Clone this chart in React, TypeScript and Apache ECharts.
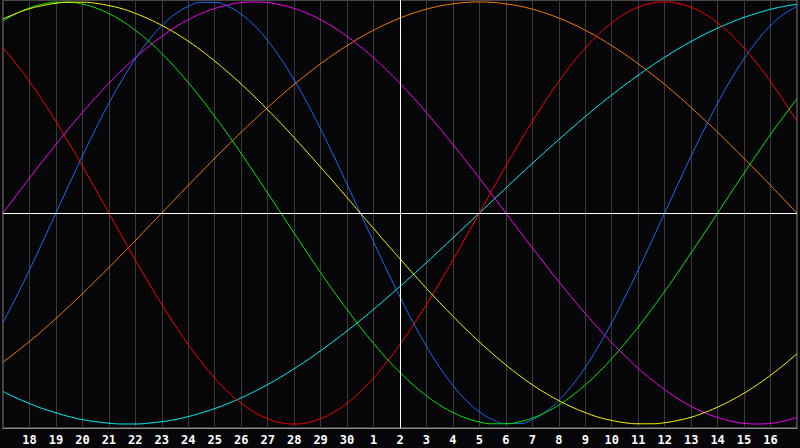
import React, { useEffect, useRef } from "react";
import * as echarts from "echarts";

// Day labels at each vertical grid line (one per day, Sep 17 .. Oct 17)
const dayLabels = [
  "17", "18", "19", "20", "21", "22", "23", "24", "25", "26", "27", "28", "29", "30",
  "1", "2", "3", "4", "5", "6", "7", "8", "9", "10", "11", "12", "13", "14", "15", "16", "17",
];
const todayIndex = 15;
// values read every half day (61 samples from the first to the last grid line)
const samplesPerDay = 2;

const physical = [
  -0.520, -0.398, -0.270, -0.136,
  0, 0.136, 0.270, 0.398, 0.520, 0.631, 0.731, 0.817, 0.888, 0.942, 0.979, 0.998, 0.998, 0.979, 0.942, 0.888, 0.817, 0.731, 0.631, 0.520, 0.398, 0.270, 0.136,
  0, -0.136, -0.270, -0.398, -0.520, -0.631, -0.731, -0.817, -0.888, -0.942, -0.979, -0.998, -0.998, -0.979, -0.942, -0.888, -0.817, -0.731, -0.631, -0.520, -0.398, -0.270, -0.136,
  0, 0.136, 0.270, 0.398, 0.520, 0.631, 0.731, 0.817, 0.888, 0.942, 0.979,
];
const emotional = [
  0.782, 0.707, 0.623, 0.532, 0.434, 0.330, 0.223, 0.112,
  0, -0.112, -0.223, -0.330, -0.434, -0.532, -0.623, -0.707, -0.782, -0.847, -0.901, -0.944, -0.975, -0.994, -1, -0.994, -0.975, -0.944, -0.901, -0.847, -0.782, -0.707, -0.623, -0.532, -0.434, -0.330, -0.223, -0.112,
  0, 0.112, 0.223, 0.330, 0.434, 0.532, 0.623, 0.707, 0.782, 0.847, 0.901, 0.944, 0.975, 0.994, 1, 0.994, 0.975, 0.944, 0.901, 0.847, 0.782, 0.707, 0.623, 0.532, 0.434,
];
const intellectual = [
  0.910, 0.945, 0.972, 0.990, 0.999, 0.999, 0.990, 0.972, 0.945, 0.910, 0.866, 0.815, 0.756, 0.690, 0.618, 0.541, 0.458, 0.372, 0.282, 0.189, 0.095,
  0, -0.095, -0.189, -0.282, -0.372, -0.458, -0.541, -0.618, -0.690, -0.756, -0.815, -0.866, -0.910, -0.945, -0.972, -0.990, -0.999, -0.999, -0.990, -0.972, -0.945, -0.910, -0.866, -0.815, -0.756, -0.690, -0.618, -0.541, -0.458, -0.372, -0.282, -0.189, -0.095,
  0, 0.095, 0.189, 0.282, 0.372, 0.458, 0.541,
];
const intuitive = [
  0, 0.083, 0.165, 0.246, 0.325, 0.402, 0.476, 0.547, 0.614, 0.677, 0.736, 0.789, 0.837, 0.880, 0.916, 0.946, 0.969, 0.986, 0.997, 1, 0.997, 0.986, 0.969, 0.946, 0.916, 0.880, 0.837, 0.789, 0.736, 0.677, 0.614, 0.547, 0.476, 0.402, 0.325, 0.246, 0.165, 0.083,
  0, -0.083, -0.165, -0.246, -0.325, -0.402, -0.476, -0.547, -0.614, -0.677, -0.736, -0.789, -0.837, -0.880, -0.916, -0.946, -0.969, -0.986, -0.997, -1, -0.997, -0.986, -0.969,
];
const aesthetic = [
  0.920, 0.946, 0.968, 0.983, 0.994, 0.999, 0.999, 0.994, 0.983, 0.968, 0.946, 0.920, 0.889, 0.854, 0.814, 0.769, 0.720, 0.667, 0.611, 0.552, 0.489, 0.425, 0.357, 0.288, 0.217, 0.146, 0.073,
  0, -0.073, -0.146, -0.217, -0.288, -0.357, -0.425, -0.489, -0.552, -0.611, -0.667, -0.720, -0.769, -0.814, -0.854, -0.889, -0.920, -0.946, -0.968, -0.983, -0.994, -0.999, -0.999, -0.994, -0.983, -0.968, -0.946, -0.920, -0.889, -0.854, -0.814, -0.769, -0.720, -0.667,
];
const awareness = [
  -0.707, -0.659, -0.609, -0.556, -0.5, -0.442, -0.383, -0.321, -0.259, -0.195, -0.131, -0.065,
  0, 0.065, 0.131, 0.195, 0.259, 0.321, 0.383, 0.442, 0.5, 0.556, 0.609, 0.659, 0.707, 0.752, 0.793, 0.832, 0.866, 0.897, 0.924, 0.947, 0.966, 0.981, 0.991, 0.998, 1,
  0.998, 0.991, 0.981, 0.966, 0.947, 0.924, 0.897, 0.866, 0.832, 0.793, 0.752, 0.707, 0.659, 0.609, 0.556, 0.5, 0.442, 0.383, 0.321, 0.259, 0.195, 0.131, 0.065, 0,
];
const spiritual = [
  -0.846, -0.876, -0.903, -0.927, -0.947, -0.965, -0.979, -0.989, -0.996, -1.0, -1.0, -0.996, -0.989, -0.979, -0.965, -0.947, -0.927, -0.903, -0.876, -0.846, -0.813, -0.777, -0.738, -0.697, -0.653, -0.607, -0.559, -0.509, -0.457, -0.403, -0.348, -0.292, -0.235, -0.177, -0.118, -0.059,
  0, 0.059, 0.118, 0.177, 0.235, 0.292, 0.348, 0.403, 0.457, 0.509, 0.559, 0.607, 0.653, 0.697, 0.738, 0.777, 0.813, 0.846, 0.876, 0.903, 0.927, 0.947, 0.965, 0.979, 0.989,
];

const seriesDefs = [
  { name: "Awareness", data: awareness, color: "#ff8000" },
  { name: "Spiritual", data: spiritual, color: "#00ffff" },
  { name: "Intuitive", data: intuitive, color: "#ff00ff" },
  { name: "Physical", data: physical, color: "#1a6cff" },
  { name: "Emotional", data: emotional, color: "#ff0000" },
  { name: "Intellectual", data: intellectual, color: "#00ee00" },
  { name: "Aesthetic", data: aesthetic, color: "#ffff00" },
];

export default function App() {
  const ref = useRef<HTMLDivElement>(null);
  useEffect(() => {
    if (!ref.current) return;
    const chart = echarts.init(ref.current, null, { renderer: "svg" });
    const series: any[] = seriesDefs.map((s) => ({
      name: s.name,
      type: "line",
      data: s.data.map((v, i) => [i / samplesPerDay, v]),
      smooth: true,
      showSymbol: false,
      symbol: "none",
      lineStyle: { width: 1, color: s.color },
      itemStyle: { color: s.color },
      z: 3,
    }));
    series.push({
      name: "today",
      type: "line",
      data: [],
      markLine: {
        silent: true,
        symbol: ["none", "none"],
        label: { show: false },
        lineStyle: { color: "#ffffff", width: 1, type: "solid" },
        data: [{ xAxis: todayIndex }, { yAxis: 0 }],
      },
      z: 2,
    });
    chart.setOption({
      animation: false,
      backgroundColor: "#060609",
      grid: {
        left: 0,
        right: 0,
        top: 0,
        bottom: 20,
        show: true,
        borderColor: "#8a8a8a",
        borderWidth: 1,
        backgroundColor: "#060609",
      },
      xAxis: {
        type: "value",
        min: 0,
        max: dayLabels.length - 1,
        interval: 1,
        axisTick: { show: false },
        axisLine: { show: true, onZero: false, lineStyle: { color: "#8a8a8a", width: 1 } },
        splitLine: { show: true, lineStyle: { color: "#3a3a3a", width: 1 } },
        axisLabel: {
          color: "#ffffff",
          fontFamily: "DejaVu Sans Mono",
          fontWeight: "bold",
          fontSize: 12,
          margin: 6,
          formatter: (v: number) =>
            v <= 0 || v >= dayLabels.length - 1 ? "" : dayLabels[Math.round(v)],
        },
      },
      yAxis: {
        type: "value",
        min: -1.019,
        max: 1.0095,
        show: true,
        axisLine: { show: false },
        axisTick: { show: false },
        axisLabel: { show: false },
        splitLine: { show: false },
      },
      series,
    });
    return () => chart.dispose();
  }, []);
  return (
    <div
      ref={ref}
      style={{ position: "fixed", left: 0, top: 0, width: 800, height: 448, background: "#060609" }}
    />
  );
}
